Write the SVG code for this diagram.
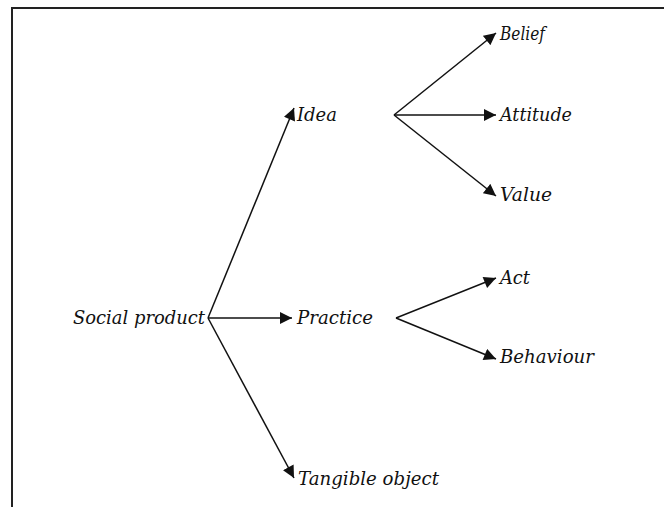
<svg xmlns="http://www.w3.org/2000/svg" width="664" height="507" viewBox="0 0 664 507">
<style>
text{font-family:"DejaVu Serif","Liberation Serif",serif;font-style:italic;font-size:18px;fill:#111}
.c line{stroke:#111;stroke-width:1.5;marker-end:url(#ah)}
</style>
<defs>
<marker id="ah" viewBox="0 0 10 10" refX="10" refY="5" markerWidth="8.5" markerHeight="8" markerUnits="strokeWidth" orient="auto">
<path d="M0,0L10,5L0,10z" fill="#111"/>
</marker>
</defs>
<rect width="664" height="507" fill="#fff"/>
<path d="M12,507V8H664" fill="none" stroke="#222" stroke-width="2"/>
<g class="c" id="connectors">
<line x1="208" y1="318" x2="294" y2="108"/>
<line x1="208" y1="318" x2="292" y2="318"/>
<line x1="208" y1="318" x2="294" y2="478"/>
<line x1="394" y1="115" x2="496" y2="33"/>
<line x1="394" y1="115" x2="496" y2="115"/>
<line x1="394" y1="115" x2="496" y2="196"/>
<line x1="396" y1="318" x2="496" y2="278"/>
<line x1="396" y1="318" x2="496" y2="359"/>
</g>
<g id="n-social"><text x="73" y="324" textLength="132" lengthAdjust="spacingAndGlyphs">Social product</text></g>
<g id="n-idea"><text x="297" y="121" textLength="40" lengthAdjust="spacingAndGlyphs">Idea</text></g>
<g id="n-practice"><text x="297" y="324" textLength="76" lengthAdjust="spacingAndGlyphs">Practice</text></g>
<g id="n-tangible"><text x="298" y="485" textLength="141" lengthAdjust="spacingAndGlyphs">Tangible object</text></g>
<g id="n-belief"><text x="500" y="40" textLength="45" lengthAdjust="spacingAndGlyphs">Belief</text></g>
<g id="n-attitude"><text x="500" y="121" textLength="72" lengthAdjust="spacingAndGlyphs">Attitude</text></g>
<g id="n-value"><text x="500" y="201" textLength="52" lengthAdjust="spacingAndGlyphs">Value</text></g>
<g id="n-act"><text x="500" y="284" textLength="30" lengthAdjust="spacingAndGlyphs">Act</text></g>
<g id="n-behaviour"><text x="500" y="363" textLength="94" lengthAdjust="spacingAndGlyphs">Behaviour</text></g>
</svg>
